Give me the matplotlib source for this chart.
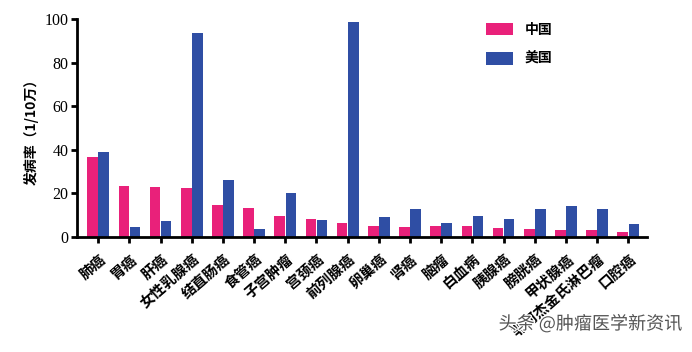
import numpy as np
import matplotlib
matplotlib.use('Agg')
import matplotlib.pyplot as plt
import matplotlib.patheffects as pe

plt.rcParams['font.family'] = ['Liberation Serif', 'Noto Sans CJK SC', 'DejaVu Sans']

# 癌症类型与发病率（1/10万）
cancers = ['肺癌', '胃癌', '肝癌', '女性乳腺癌', '结直肠癌', '食管癌', '子宫肿瘤', '宫颈癌',
           '前列腺癌', '卵巢癌', '肾癌', '脑瘤', '白血病', '胰腺癌', '膀胱癌', '甲状腺癌',
           '非何杰金氏淋巴瘤', '口腔癌']
china = [36.7, 23.4, 22.8, 22.5, 14.9, 13.2, 9.5, 8.4, 6.4, 4.9, 4.5, 4.9, 5.2, 4.3, 3.7, 3.4, 3.2, 2.2]
usa = [39.0, 4.6, 7.3, 93.4, 26.0, 3.7, 20.2, 7.8, 98.8, 9.0, 12.9, 6.4, 9.5, 8.4, 12.7, 14.1, 13.0, 6.1]
yticks = [0, 20, 40, 60, 80, 100]

pink = '#E9217A'
blue = '#2F4EA4'

fig = plt.figure(figsize=(6.92, 3.52), dpi=100)
ax = fig.add_axes([0.1113, 0.3267, 0.8237, 0.6193])

x = np.arange(len(cancers))
w = 0.34
ax.bar(x - 0.178, china, w, color=pink, label='中国')
ax.bar(x + 0.178, usa, w, color=blue, label='美国')

ax.set_xlim(-0.68, 17.6)
ax.set_ylim(0, 100)
ax.set_yticks(yticks)
ax.set_xticks(x)
ax.set_xticklabels(cancers, rotation=41, ha='right', rotation_mode='anchor',
                   family=['Noto Sans CJK SC'], fontsize=10.5, fontweight='bold')
for lab in ax.get_yticklabels():
    lab.set_fontsize(11.5)

for s in ['top', 'right']:
    ax.spines[s].set_visible(False)
for s in ['left', 'bottom']:
    ax.spines[s].set_linewidth(2)
ax.tick_params(axis='both', width=2, length=4, direction='out', colors='black')
ax.tick_params(axis='y', pad=2)
ax.tick_params(axis='x', pad=6)

ax.set_ylabel('发病率（1/10万）', family=['Noto Sans CJK SC'], fontsize=10, fontweight='bold', labelpad=4)

leg = ax.legend(loc='upper left', bbox_to_anchor=(0.695, 1.04), frameon=False,
                prop={'family': 'Noto Sans CJK SC', 'size': 10, 'weight': 'bold'},
                handlelength=2.0, handleheight=1.0, labelspacing=1.1)

fig.text(0.985, 0.08, '头条 @肿瘤医学新资讯', ha='right', va='center', fontsize=13,
         family=['Noto Sans CJK SC'], color='#555555',
         path_effects=[pe.withStroke(linewidth=2, foreground='white')])

fig.savefig('out.png', dpi=100)
